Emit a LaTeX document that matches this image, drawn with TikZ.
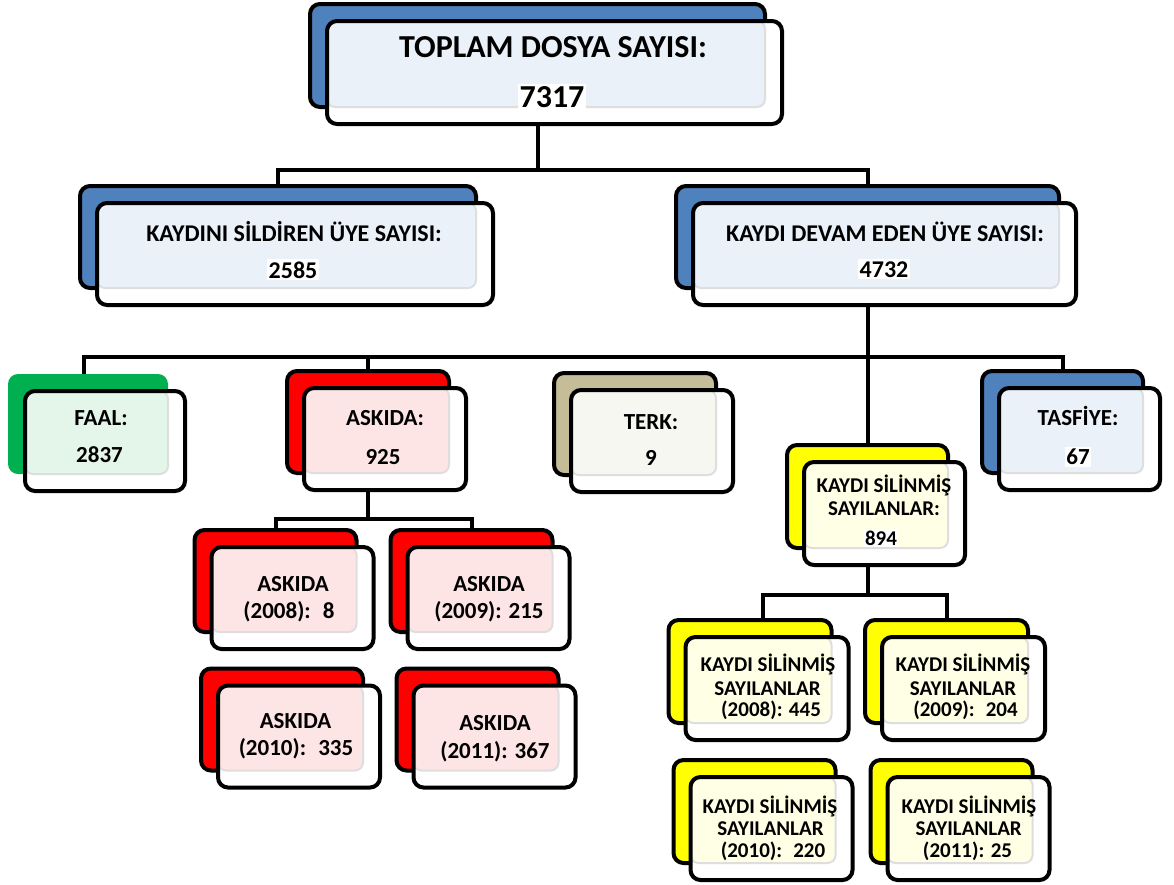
\documentclass[tikz,border=0pt]{standalone}
\usepackage{fontspec}
\setmainfont{Carlito}
\definecolor{cBlue}{RGB}{79,129,189}
\definecolor{tBlue}{RGB}{235,241,249}
\definecolor{cRed}{RGB}{255,0,0}
\definecolor{tRed}{RGB}{253,229,229}
\definecolor{cGreen}{RGB}{0,176,80}
\definecolor{tGreen}{RGB}{228,245,234}
\definecolor{cTan}{RGB}{196,189,151}
\definecolor{tTan}{RGB}{247,247,242}
\definecolor{cYel}{RGB}{255,255,0}
\definecolor{tYel}{RGB}{255,255,230}
\definecolor{edgegray}{RGB}{222,222,222}
\newcommand{\ftTitle}{\fontsize{32}{38}\selectfont\bfseries}
\newcommand{\ftSecond}{\fontsize{24}{29}\selectfont\bfseries}
\newcommand{\ftThird}{\fontsize{23}{28}\selectfont\bfseries}
\newcommand{\ftYel}{\fontsize{21}{25}\selectfont\bfseries}
\tikzset{
  backbox/.style={draw=black, line width=4pt, rounded corners=10pt, inner sep=0pt, outer sep=0pt},
  frontfill/.style={fill=white, rounded corners=10pt, inner sep=0pt, outer sep=0pt},
  frontline/.style={draw=black, line width=4pt, rounded corners=10pt, inner sep=0pt, outer sep=0pt},
  tintarea/.style={line width=2pt, draw=edgegray, rounded corners=8pt},
  conn/.style={draw=black, line width=4pt},
  lbl/.style={anchor=base, inner sep=0pt, text=black},
  numhl/.style={anchor=base, fill=white, inner xsep=1.5pt, inner ysep=2pt, text=black},
}
\newcommand{\dbox}[7]{%
  \node[backbox, #6, minimum width=#4pt, minimum height=#5pt] (#1B) at (#2,#3) {};
  \node[frontfill, minimum width=#4pt, minimum height=#5pt] (#1F) at ([shift={(17,17)}]#1B.center) {};
  \path[tintarea, fill=#7] (#1F.north west) rectangle (#1B.south east);
  \node[frontline, minimum width=#4pt, minimum height=#5pt] (#1L) at (#1F.center) {};
}
\begin{document}
\begin{tikzpicture}[x=1pt, y=-1pt]
\useasboundingbox (0,0) rectangle (1174,884);
\fill[white] (0,0) rectangle (1174,884);

% boxes
\dbox{top}{537.5}{55.5}{455}{103}{fill=cBlue}{tBlue}
\dbox{KD}{278}{237}{396}{102}{fill=cBlue}{tBlue}
\dbox{DV}{867.5}{237}{383}{102}{fill=cBlue}{tBlue}
\dbox{FA}{88}{424}{160}{100}{fill=cGreen, draw=none}{tGreen}
\dbox{AS}{368}{422}{162}{102}{fill=cRed}{tRed}
\dbox{TE}{635}{424}{162}{102}{fill=cTan}{tTan}
\dbox{TS}{1062.5}{422}{161}{102}{fill=cBlue}{tBlue}
\dbox{KS}{867.5}{496.5}{161}{103}{fill=cYel}{tYel}
\dbox{Aa}{275.5}{581}{162}{102}{fill=cRed}{tRed}
\dbox{Ab}{471.5}{581}{162}{102}{fill=cRed}{tRed}
\dbox{Ac}{282}{719.5}{162}{102}{fill=cRed}{tRed}
\dbox{Ad}{477.5}{719.5}{162}{102}{fill=cRed}{tRed}
\dbox{Ka}{750}{671.5}{163}{103}{fill=cYel}{tYel}
\dbox{Kb}{946.5}{671.5}{163}{103}{fill=cYel}{tYel}
\dbox{Kc}{754.5}{811.5}{162}{103}{fill=cYel}{tYel}
\dbox{Kd}{951.5}{811.5}{162}{103}{fill=cYel}{tYel}

% connectors
\coordinate (bus1) at (0,170);
\coordinate (bus2) at (0,357);
\coordinate (bus3) at (0,519);
\coordinate (bus4) at (0,595);
\draw[conn] (topB.center |- topL.south) -- (topB.center |- bus1);
\draw[conn] (KDB.north) |- (DVB.center |- bus1) -- (DVB.north);
\draw[conn] (DVB.center |- DVL.south) -- (KSB.north);
\draw[conn] ([xshift=-4pt]FAB.north) |- (TSB.center |- bus2) -- (TSB.north);
\draw[conn] (ASB.north) -- (ASB.center |- bus2);
\draw[conn] (ASB.center |- ASL.south) -- (ASB.center |- bus3);
\draw[conn] (AaB.north) |- (AbB.center |- bus3) -- (AbB.north);
\draw[conn] (KSB.center |- KSL.south) -- (KSB.center |- bus4);
\draw[conn] ([xshift=13pt]KaB.north) |- (KbB.center |- bus4) -- (KbB.north);

% texts
\node[lbl, font=\ftTitle] (tTitle) at (553,57.5) {TOPLAM DOSYA SAYISI:};
\node[numhl, font=\ftTitle] (tTitleN) at (552,107) {7317};
\node[lbl, font=\ftSecond] (tKD) at (294,241) {KAYDINI SİLDİREN ÜYE SAYISI:};
\node[numhl, font=\ftSecond] (tKDN) at (293,278) {2585};
\node[lbl, font=\ftSecond] (tDV) at (885,241) {KAYDI DEVAM EDEN ÜYE SAYISI:};
\node[numhl, font=\ftSecond] (tDVN) at (884,277) {4732};
\node[lbl, font=\ftThird] (tFA) at (101,425.5) {FAAL:};
\node[lbl, font=\ftThird] (tFAN) at (99.5,462.5) {2837};
\node[lbl, font=\ftThird] (tAS) at (385,425.5) {ASKIDA:};
\node[lbl, font=\ftThird] (tASN) at (383,464.5) {925};
\node[lbl, font=\ftThird] (tTE) at (651,429.5) {TERK:};
\node[lbl, font=\ftThird] (tTEN) at (651,465.5) {9};
\node[lbl, font=\ftThird] (tTS) at (1078,425.5) {TASFİYE:};
\node[numhl, font=\ftThird] (tTSN) at (1078,464.5) {67};
\node[lbl, font=\ftYel] (tKS1) at (884,492) {KAYDI SİLİNMİŞ};
\node[lbl, font=\ftYel] (tKS2) at (884,515) {SAYILANLAR:};
\node[numhl, font=\ftYel] (tKSN) at (881,545) {894};
\node[lbl, font=\ftThird] (tAa1) at (293,591.5) {ASKIDA};
\node[lbl, font=\ftThird] (tAa2) at (289,618.5) {(2008):~ 8};
\node[lbl, font=\ftThird] (tAb1) at (489,591.5) {ASKIDA};
\node[lbl, font=\ftThird] (tAb2) at (489,618.5) {(2009): 215};
\node[lbl, font=\ftThird] (tAc1) at (295.5,728.5) {ASKIDA};
\node[lbl, font=\ftThird] (tAc2) at (296,755.5) {(2010):~ 335};
\node[lbl, font=\ftThird] (tAd1) at (495,730.5) {ASKIDA};
\node[lbl, font=\ftThird] (tAd2) at (495,758.5) {(2011): 367};
\node[lbl, font=\ftYel] (tKa1) at (768,671) {KAYDI SİLİNMİŞ};
\node[lbl, font=\ftYel] (tKa2) at (767.5,695) {SAYILANLAR};
\node[lbl, font=\ftYel] (tKa3) at (771,716) {(2008): 445};
\node[lbl, font=\ftYel] (tKb1) at (963,671) {KAYDI SİLİNMİŞ};
\node[lbl, font=\ftYel] (tKb2) at (963,695) {SAYILANLAR};
\node[lbl, font=\ftYel] (tKb3) at (965.5,716) {(2009):~ 204};
\node[lbl, font=\ftYel] (tKc1) at (770,813) {KAYDI SİLİNMİŞ};
\node[lbl, font=\ftYel] (tKc2) at (770.5,835) {SAYILANLAR};
\node[lbl, font=\ftYel] (tKc3) at (773,857) {(2010):~ 220};
\node[lbl, font=\ftYel] (tKd1) at (969,813) {KAYDI SİLİNMİŞ};
\node[lbl, font=\ftYel] (tKd2) at (968.7,835) {SAYILANLAR};
\node[lbl, font=\ftYel] (tKd3) at (967.5,857) {(2011): 25};
\end{tikzpicture}
\end{document}
